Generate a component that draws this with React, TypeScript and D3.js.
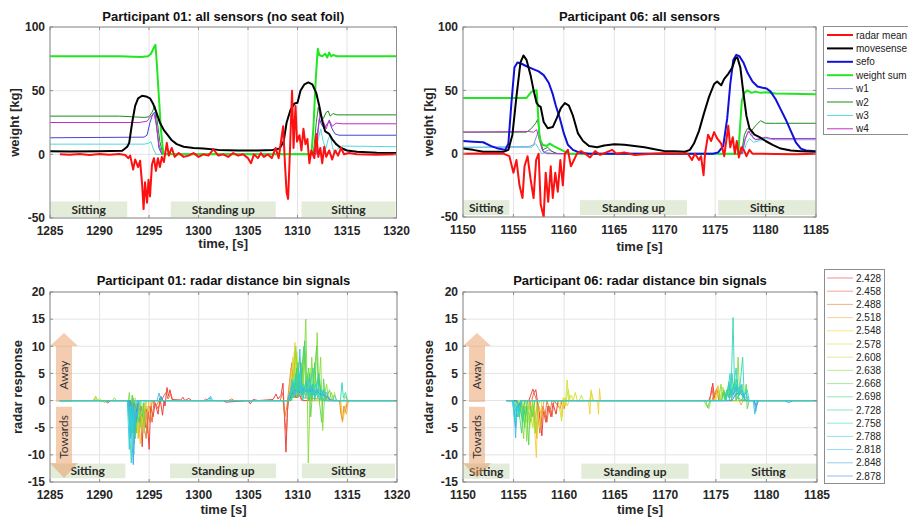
import React from 'react';
import * as d3 from 'd3';

type Pt = [number, number];

// ---- Participant 01: all sensors ----
const p01Radar: Pt[] = [[1286,0],[1287,-0.3],[1288,0.2],[1289,-0.5],[1290,0.3],[1291,-0.4],[1292,0.2],[1292.6,-0.5],[1292.9,-3],[1293.1,-1],[1293.4,-12],[1293.6,-4],[1293.9,-10],[1294.1,-5],[1294.3,-23],[1294.45,-43],[1294.6,-22],[1294.8,-38],[1294.95,-20],[1295.1,-33],[1295.3,-8],[1295.5,-3],[1295.7,-13],[1295.9,-3],[1296.1,-10],[1296.3,-2],[1296.5,-6],[1296.8,9],[1297,-1],[1297.3,5],[1297.6,-2],[1298,1],[1298.5,-2],[1299,-1],[1299.5,1],[1300,-2],[1300.5,0],[1301,-1],[1301.5,4],[1302,-1],[1302.5,0],[1303,-2],[1303.5,1],[1304,-1],[1304.5,0],[1305,-3],[1305.3,-7],[1305.6,0],[1306,-3],[1306.3,1],[1306.6,-2],[1307,0],[1307.4,-3],[1307.8,5],[1308.1,-3],[1308.4,14],[1308.55,22],[1308.75,-10],[1308.9,-30],[1309.05,-35],[1309.2,-5],[1309.45,50],[1309.6,5],[1309.8,38],[1309.95,10],[1310.2,15],[1310.4,3],[1310.6,20],[1310.8,8],[1311,12],[1311.2,-7],[1311.4,3],[1311.7,-3],[1311.9,16],[1312.1,-2],[1312.3,5],[1312.5,-7],[1312.7,6],[1312.9,-2],[1313.2,3],[1313.5,-4],[1313.8,3],[1314.1,-1],[1314.4,5],[1314.7,0],[1315.2,1],[1316,0],[1318,-0.3],[1320,0]];
const p01Move: Pt[] = [[1285,2.5],[1287,2.2],[1290,2.5],[1292.3,2.8],[1292.8,6],[1293,9],[1293.3,25],[1293.6,38],[1293.9,44],[1294.3,46],[1294.7,45.5],[1295.1,44],[1295.4,40],[1295.7,34],[1296.1,25],[1296.5,19],[1296.9,15],[1297.3,11],[1297.8,8],[1298.5,6],[1299.5,5],[1300.5,4.5],[1302,3.5],[1304,3],[1306,3],[1307.5,3.5],[1308.2,4.5],[1308.6,10],[1308.9,25],[1309.3,35],[1309.7,40],[1310,40.5],[1310.3,50],[1310.7,55],[1311.1,56.5],[1311.5,55],[1311.9,48],[1312.2,38],[1312.5,26],[1312.8,18],[1313.2,16],[1313.5,12],[1313.9,8],[1314.4,5],[1315,3],[1316,2],[1318,1.3],[1320,1]];
const p01Weight: Pt[] = [[1285,77],[1292,77],[1294.2,76.5],[1294.9,77],[1295.2,79],[1295.5,84],[1295.65,86],[1295.8,70],[1296,45],[1296.2,20],[1296.45,0],[1311.4,0],[1311.6,20],[1311.85,60],[1312.05,83],[1312.2,78],[1312.5,77],[1312.8,79],[1313,76],[1313.2,80],[1313.4,77],[1313.6,78],[1314,77],[1320,77]];
const p01W1: Pt[] = [[1285,13],[1294.5,13.5],[1294.8,15],[1295.1,25],[1295.4,32],[1295.6,33],[1295.8,20],[1296,5],[1296.3,0],[1311.7,0],[1312,15],[1312.2,28],[1312.4,24],[1312.7,20],[1313,24],[1313.2,26],[1313.5,20],[1313.8,16],[1314.2,15],[1320,15]];
const p01W2: Pt[] = [[1285,30],[1292,30],[1294.5,29],[1295,29.5],[1295.3,33],[1295.6,38],[1295.8,28],[1296.1,10],[1296.4,0],[1311.6,0],[1311.9,25],[1312.1,37],[1312.3,30],[1312.6,28],[1312.9,33],[1313.1,34],[1313.3,30],[1313.6,32],[1314,31],[1320,31]];
const p01W3: Pt[] = [[1285,8],[1294.5,8],[1294.9,8.5],[1295.2,10],[1295.4,5],[1295.7,0],[1311.8,0],[1312.1,12],[1312.35,20],[1312.6,10],[1312.85,4],[1313.1,12],[1313.3,15],[1313.55,5],[1313.75,0.5],[1314,4],[1314.5,6.5],[1320,6]];
const p01W4: Pt[] = [[1285,25],[1294,25],[1294.8,26],[1295.2,30],[1295.5,32],[1295.7,25],[1296,8],[1296.3,0],[1311.9,0],[1312.1,20],[1312.3,33],[1312.6,26],[1312.9,20],[1313.2,27],[1313.5,22],[1313.9,24.5],[1314.5,24],[1320,24]];

// ---- Participant 06: all sensors ----
const p06Radar: Pt[] = [[1150,0],[1152,0.2],[1154,0],[1154.6,-2],[1155,-15],[1155.3,-5],[1155.6,-25],[1155.9,-35],[1156.1,-10],[1156.4,-2],[1156.7,-20],[1157,-35],[1157.25,-5],[1157.5,0],[1157.7,-40],[1158,-50],[1158.2,-15],[1158.45,-38],[1158.7,-10],[1158.9,-35],[1159.15,-15],[1159.4,-30],[1159.65,-5],[1159.9,-25],[1160.1,0],[1160.4,3],[1160.7,-10],[1161,-5],[1161.3,0],[1161.7,2],[1162.1,0],[1162.6,-3],[1163.1,2],[1163.6,-1],[1164.2,1],[1164.8,3],[1165.2,0],[1166,1],[1167,-1],[1168,-0.5],[1169,0],[1170,0.3],[1172.3,0],[1172.7,-5],[1173,0],[1173.4,-5],[1173.6,-2],[1173.85,-17],[1174,0],[1174.3,15],[1174.6,10],[1174.9,17],[1175.2,12],[1175.6,8],[1175.9,-2],[1176.3,22],[1176.5,5],[1176.75,13],[1176.95,0],[1177.15,10],[1177.35,-3],[1177.6,5],[1177.9,2],[1178.1,-2],[1178.4,3],[1178.7,0],[1179.5,0],[1181,-0.3],[1183,-0.5],[1185,0]];
const p06Move: Pt[] = [[1150,4],[1151,3],[1152,1.5],[1153,1.5],[1154,1.5],[1154.5,3],[1154.9,15],[1155.3,45],[1155.7,72],[1156,77.5],[1156.3,74],[1156.7,62],[1157,50],[1157.3,40],[1157.5,38],[1157.7,37],[1158,25],[1158.4,20],[1158.9,21],[1159.3,28],[1159.7,36],[1160.1,40],[1160.5,38],[1160.9,30],[1161.4,16],[1161.9,10],[1162.5,6],[1163.3,5],[1164,6.5],[1165,7.5],[1166,7],[1167,6],[1168,5],[1169,3.5],[1170,2],[1171,2],[1172,1.5],[1172.5,3],[1172.9,8],[1173.4,18],[1173.9,32],[1174.4,45],[1174.9,55],[1175.2,57],[1175.6,54],[1175.9,59],[1176.3,63],[1176.7,68],[1177,75],[1177.2,76],[1177.5,68],[1177.8,48],[1178.1,30],[1178.4,20],[1178.9,15],[1179.4,13],[1180,10],[1180.7,7],[1181.5,4],[1182.5,2.5],[1183.5,2],[1185,1.5]];
const p06Sefo: Pt[] = [[1150,10],[1151,9.5],[1152,9],[1152.8,6],[1153.5,4],[1154.2,3],[1154.5,8],[1154.8,40],[1155.1,68],[1155.4,72],[1155.8,71],[1156.3,69],[1156.9,67],[1157.5,65],[1158,62],[1158.5,56],[1158.9,47],[1159.2,38],[1159.6,28],[1160,16],[1160.4,7],[1160.9,3],[1161.5,1],[1162.5,0],[1174.8,0],[1175.3,1],[1175.8,6],[1176.2,28],[1176.5,55],[1176.8,74],[1177.1,78],[1177.4,77],[1177.8,72],[1178.2,64],[1178.7,57],[1179.2,53],[1179.7,52],[1180.1,51.5],[1180.5,49],[1181,43],[1181.5,35],[1182,27],[1182.5,18],[1183,9],[1183.5,4],[1184,2.5],[1185,2]];
const p06Weight: Pt[] = [[1150,44],[1156.3,44],[1156.5,46],[1156.8,49],[1157.3,50],[1157.45,30],[1157.6,12],[1157.9,7],[1158.3,6],[1158.6,8],[1159,6],[1159.5,4],[1160,2],[1160.5,0],[1177.3,0],[1177.5,25],[1177.65,42],[1177.9,48],[1178.2,50],[1178.6,48],[1179,49],[1179.5,48],[1180,48.5],[1181,47.5],[1185,47]];
const p06W1: Pt[] = [[1150,5],[1156.5,5.5],[1157,7],[1157.3,14],[1157.5,18],[1157.7,8],[1158,1],[1158.5,3],[1159,1],[1159.5,0],[1177.6,0],[1177.9,10],[1178.2,16],[1178.5,18],[1178.8,12],[1179.2,11],[1180,12],[1181,11],[1185,11]];
const p06W2: Pt[] = [[1150,17],[1156.3,17],[1156.8,20],[1157.2,24],[1157.4,27],[1157.6,15],[1157.9,3],[1158.4,5],[1158.8,2],[1159.3,0],[1177.6,0],[1177.9,15],[1178.2,20],[1178.6,18],[1179,22],[1179.5,26],[1180,24],[1181,24],[1185,24]];
const p06W3: Pt[] = [[1150,5],[1156.8,5],[1157.2,8],[1157.5,4],[1157.8,0],[1158.3,1],[1159,0],[1177.8,0],[1178.1,8],[1178.4,12],[1178.8,9],[1179.3,10],[1180,12],[1185,11.5]];
const p06W4: Pt[] = [[1150,17],[1156.5,17.5],[1157,17],[1157.3,19],[1157.6,10],[1157.9,2],[1158.3,0],[1177.7,0],[1178,12],[1178.3,18],[1178.6,14],[1179,11],[1179.5,12],[1180,13],[1180.5,12],[1185,12]];

// ---- radar distance bins ----
const binLabels = ['2.428','2.458','2.488','2.518','2.548','2.578','2.608','2.638','2.668','2.698','2.728','2.758','2.788','2.818','2.848','2.878'];

const binsP01: Pt[][] = [
  [[1286,0],[1292.8,0],[1293,-0.5],[1293.3,-1.5],[1293.5,-0.3],[1293.9,-3],[1294.1,-1],[1294.3,-8.5],[1294.45,-2],[1294.6,-5],[1294.75,-1.5],[1295,-9],[1295.15,-1],[1295.4,-3],[1295.6,-0.5],[1295.9,-2.5],[1296.1,0.5],[1296.35,-2.7],[1296.5,0],[1296.6,-1],[1296.8,2.4],[1296.95,0.8],[1297.1,2],[1297.3,0.2],[1298.2,0.1],[1298.4,0.6],[1298.6,0],[1299,0.4],[1299.3,0],[1302.5,0],[1302.7,-0.3],[1305,0],[1305.2,-0.6],[1305.5,0.2],[1306,0],[1307.5,0.2],[1307.8,1.2],[1308,0.3],[1308.3,1],[1308.5,3.2],[1308.65,-3],[1308.8,-9.5],[1308.95,-2],[1309.1,1],[1309.3,0.5],[1309.5,2],[1309.8,0.5],[1310.2,1],[1310.5,0],[1311,0],[1320,0]],
  [[1286,0],[1290.7,0],[1290.9,-0.4],[1291.1,0],[1293.5,0],[1293.8,-2],[1294,-0.5],[1294.3,-5],[1294.5,-1],[1294.8,-6],[1295,-1],[1295.3,-4],[1295.5,0],[1295.9,-1.5],[1296.2,0],[1296.7,1.5],[1296.9,0.3],[1297.2,1.2],[1297.4,0],[1300.5,0],[1300.7,0.3],[1301,0],[1308.2,0],[1308.5,1.5],[1308.7,-4],[1308.85,-6],[1309,0],[1309.4,3],[1309.6,0.5],[1310,1.5],[1310.4,0],[1320,0]],
  [[1286,0],[1290.6,0],[1290.8,-0.5],[1291,0],[1293.4,0],[1293.6,-3],[1293.8,-0.5],[1294,-6],[1294.2,-1],[1294.5,-5],[1294.7,-7],[1294.9,-2],[1295.1,-4],[1295.3,0],[1295.7,-1],[1296,0],[1303,0],[1303.3,0.3],[1303.6,0],[1308.5,0],[1308.7,-3],[1308.9,-1],[1309.2,4],[1309.4,7],[1309.55,1],[1309.7,5],[1309.9,0.5],[1310.3,3],[1310.6,0.5],[1314.2,0],[1314.35,-2.5],[1314.5,-3.8],[1314.65,-1],[1314.8,-2],[1315,0],[1320,0]],
  [[1286,0],[1293.2,0],[1293.5,-4],[1293.7,-1],[1293.9,-7],[1294.1,-2],[1294.3,-5],[1294.5,-0.5],[1294.7,-3],[1295,0],[1309,0],[1309.3,6],[1309.45,1],[1309.65,9],[1309.8,2],[1310.1,4],[1310.4,0.5],[1310.8,2],[1311.2,0],[1314.3,0],[1314.5,-4],[1314.7,-1.5],[1314.9,-2.5],[1315.1,0],[1320,0]],
  [[1286,0],[1289.3,0],[1289.5,0.3],[1289.7,0],[1293.3,0],[1293.6,-5],[1293.8,-1],[1294.1,-8],[1294.3,-3],[1294.5,-6],[1294.7,-1],[1295,-2],[1295.2,0],[1309.1,0],[1309.35,5],[1309.5,2],[1309.7,10.7],[1309.85,3],[1310,7],[1310.2,1],[1310.5,6],[1310.7,1],[1311,3],[1311.3,0.5],[1311.8,4],[1312,0],[1312.6,0],[1312.8,1.5],[1313,0],[1314.3,0],[1314.45,-2],[1314.6,-3],[1314.8,-1],[1315,0],[1320,0]],
  [[1286,0],[1289.4,0],[1289.6,0.5],[1289.8,0.1],[1290.2,-0.3],[1290.5,0],[1293.2,0],[1293.4,-3],[1293.6,0.5],[1293.8,-6],[1294,-1],[1294.3,-4],[1294.6,-0.5],[1295,0],[1309.2,0],[1309.5,8],[1309.7,2],[1309.9,9],[1310.1,3],[1310.4,7],[1310.6,1],[1311,5],[1311.2,0],[1311.6,6],[1311.8,1],[1312.2,3],[1312.5,0],[1313.5,0],[1313.7,1.5],[1313.9,0],[1320,0]],
  [[1286,0],[1289.8,0],[1290,0.4],[1290.2,0],[1293.3,0],[1293.5,-6],[1293.7,-1],[1293.9,-4],[1294.1,0],[1309.3,0],[1309.6,6],[1309.8,1],[1310.2,8],[1310.4,2],[1310.7,9],[1310.9,1],[1311.3,6],[1311.5,0],[1312,0],[1320,0]],
  [[1286,0],[1289.4,0],[1289.6,0.8],[1289.8,0],[1291.3,0],[1291.5,0.5],[1291.7,0],[1292.9,0],[1293,1.5],[1293.15,-2],[1293.3,0],[1293.6,-7],[1293.8,-1],[1294.2,-5],[1294.4,-0.5],[1294.5,-6],[1294.7,0],[1309.4,0],[1309.6,4],[1309.8,10],[1310,2],[1310.3,6],[1310.5,1],[1310.8,15],[1310.95,2],[1311.05,-11.5],[1311.2,-1],[1311.4,8],[1311.6,1],[1311.8,5],[1311.95,12.5],[1312.1,2],[1312.3,8],[1312.5,-5.5],[1312.7,1],[1312.9,3],[1313.1,0],[1313.4,1.5],[1313.6,0],[1314.6,0],[1314.8,0.8],[1315,0],[1320,0]],
  [[1286,0],[1290.3,0],[1290.5,-0.4],[1290.7,0],[1293,0],[1293.2,-4],[1293.4,0.5],[1293.7,-6],[1293.9,-1],[1294.3,-3],[1294.5,0],[1309.3,0],[1309.5,3],[1309.7,1],[1310,7],[1310.2,1.5],[1310.6,10],[1310.8,2],[1311.1,6],[1311.3,-3],[1311.5,2],[1311.9,10],[1312.1,1],[1312.4,-4],[1312.6,4],[1312.8,0],[1313.2,2],[1313.4,0],[1320,0]],
  [[1286,0],[1292.9,0],[1293.1,-3],[1293.3,1],[1293.5,-8],[1293.7,-2],[1294,-4],[1294.2,0],[1309.2,0],[1309.4,2],[1309.6,0.5],[1309.9,6],[1310.1,1],[1310.4,4],[1310.7,11],[1310.9,2],[1311.2,5],[1311.4,0],[1311.7,7],[1311.9,1],[1312.2,4],[1312.4,0],[1320,0]],
  [[1286,0],[1292.9,0],[1293.1,-6],[1293.3,-1],[1293.55,-7],[1293.8,0],[1296,0],[1296.2,0.5],[1296.4,0],[1309.3,0],[1309.5,1],[1309.8,4],[1310,0.5],[1310.3,7],[1310.5,1],[1310.9,4],[1311.1,0],[1311.5,3],[1311.7,0],[1312.1,5],[1312.3,0.5],[1312.6,2],[1312.8,0],[1320,0]],
  [[1286,0],[1292.8,0],[1293,-4],[1293.2,-11.5],[1293.35,-2],[1293.5,-5],[1293.7,0],[1309.1,0],[1309.3,1.5],[1309.5,0.5],[1309.8,5],[1310,1],[1310.3,3],[1310.5,0],[1310.9,4],[1311.1,1],[1311.5,6],[1311.7,0.5],[1312,4],[1312.2,0],[1312.6,2],[1312.8,0],[1314.3,0],[1314.45,3.3],[1314.6,0.5],[1314.8,1.5],[1315,0],[1320,0]],
  [[1286,0],[1292.8,0],[1293,-9],[1293.15,-1],[1293.3,-6],[1293.5,0],[1301,0],[1301.2,0.8],[1301.4,0],[1309,0],[1309.2,1],[1309.4,4],[1309.6,1],[1309.9,2],[1310.1,5],[1310.3,1],[1310.6,3],[1310.8,0.5],[1311.2,4],[1311.4,1],[1311.8,3],[1312,0.5],[1312.4,2],[1312.6,0],[1313.5,0],[1313.7,1],[1313.9,0],[1320,0]],
  [[1286,0],[1292.9,0],[1293.1,-7],[1293.3,-1],[1293.45,-10],[1293.6,-2],[1293.8,-3],[1294,0],[1295.8,0],[1296,1.4],[1296.2,0],[1309.1,0],[1309.3,2],[1309.5,3.5],[1309.7,1],[1310,2.5],[1310.2,9.5],[1310.35,1],[1310.6,2],[1311,1.5],[1311.3,3],[1311.6,1],[1312,2],[1312.5,1],[1312.9,1.5],[1313.2,0],[1320,0]],
  [[1286,0],[1293,0],[1293.2,-5],[1293.4,-11.8],[1293.55,-2],[1293.7,-4],[1293.9,0],[1300.8,0],[1301.1,0.6],[1301.3,0],[1309,0],[1309.2,1.5],[1309.4,2.5],[1309.7,2],[1310,1.5],[1310.4,2.5],[1310.8,1.8],[1311.2,2.2],[1311.7,1.5],[1312.2,2],[1312.7,1.2],[1313.1,0.5],[1313.4,0],[1320,0]],
  [[1286,0],[1293.1,0],[1293.3,-3],[1293.5,-0.5],[1293.7,-2],[1294,0],[1296,0],[1296.2,0.8],[1296.4,0],[1309.1,0],[1309.4,1.2],[1309.8,2],[1310.2,1.5],[1310.6,2],[1311,1.5],[1311.5,2],[1312,1.5],[1312.5,1],[1313,0.5],[1313.4,0],[1320,0]],
];

const binsP06: Pt[][] = [
  [[1154.3,0],[1156.5,0],[1156.7,1],[1156.9,2.1],[1157.05,1.5],[1157.2,2],[1157.35,0],[1157.6,-3],[1157.8,-6.5],[1157.95,-2],[1158.2,-4],[1158.4,-1],[1158.7,-3],[1158.9,-0.5],[1159.2,-2.5],[1159.4,0],[1174.3,0],[1174.5,1],[1174.7,3.2],[1174.85,0.5],[1175.1,2],[1175.3,0],[1185,0]],
  [[1154.3,0],[1156.8,0],[1157,1.5],[1157.2,0.5],[1157.5,-2],[1157.7,-5],[1157.9,-1],[1158.3,-4],[1158.5,-1],[1158.8,-3],[1159,0],[1159.6,-1.5],[1159.8,0],[1174.4,0],[1174.6,2.5],[1174.8,0],[1185,0]],
  [[1154.3,0],[1156.2,0],[1156.4,-2],[1156.6,0],[1157.1,-4],[1157.3,-1],[1157.6,-6],[1157.8,-1.5],[1158.1,-3],[1158.3,0],[1158.6,-2],[1158.8,0],[1159.9,0],[1160,-1.5],[1160.2,0],[1174.6,0],[1174.9,1.5],[1175.2,2.5],[1175.4,0.5],[1175.7,1.5],[1176,0],[1185,0]],
  [[1154.3,0],[1156.5,0],[1156.8,-3],[1157,-1],[1157.3,-7],[1157.5,-1],[1157.8,-3],[1158,0],[1174.8,0],[1175.1,1.5],[1175.4,0],[1177.3,0],[1177.5,-0.8],[1177.7,0],[1185,0]],
  [[1154.3,0],[1156.8,0],[1157.05,-4],[1157.25,-10.5],[1157.4,-2],[1157.6,-5],[1157.8,0],[1159.6,0],[1159.8,-3],[1160,0.5],[1160.3,-1],[1160.5,0],[1162.4,0],[1162.55,-2.5],[1162.65,2],[1162.8,0],[1163.3,0],[1163.4,-2.5],[1163.5,2.2],[1163.6,0],[1174.9,0],[1175.2,2.8],[1175.4,0.5],[1175.8,1.5],[1176,0],[1185,0]],
  [[1154.3,0],[1155.8,0],[1156,-3],[1156.2,0],[1156.6,-5],[1156.8,-1],[1157.1,-6],[1157.3,0],[1159.4,0],[1159.6,-2],[1159.75,-3.8],[1159.9,0.5],[1160.1,-1],[1160.3,3.8],[1160.45,0],[1160.7,1],[1160.9,0],[1161.1,1.5],[1161.3,0],[1162.5,0],[1162.7,1.5],[1162.9,0],[1175,0],[1175.3,2],[1175.5,0],[1185,0]],
  [[1154.3,0],[1155.5,0],[1155.7,-2],[1155.9,0],[1156.3,-4],[1156.5,-0.5],[1156.9,-5],[1157.1,0],[1160.2,0],[1160.4,2],[1160.6,0],[1161.5,0],[1161.7,1],[1161.9,0],[1175.4,0],[1175.7,2.5],[1175.9,0.5],[1176.2,1.5],[1176.4,0],[1185,0]],
  [[1154.3,0],[1155.3,0],[1155.5,-3],[1155.7,-0.5],[1156,-7],[1156.15,-1],[1156.3,-7.5],[1156.45,-2],[1156.7,-4],[1156.9,0],[1157.2,-6],[1157.4,-1],[1157.6,0],[1173.8,0],[1174.1,-1],[1174.3,-1.5],[1174.5,0],[1175.3,0],[1175.5,3],[1175.7,0.5],[1176.2,2],[1176.4,0],[1177,0],[1177.2,8],[1177.35,1],[1177.6,3],[1177.8,0],[1185,0]],
  [[1154.3,0],[1155.4,0],[1155.6,-2],[1155.8,-0.5],[1156.1,-5],[1156.3,-1],[1156.5,-8.2],[1156.65,-1],[1156.9,-3],[1157.1,0],[1174,0],[1174.2,-1.3],[1174.4,0],[1175.6,0],[1175.8,2],[1176,0.5],[1176.3,3.5],[1176.5,1],[1176.9,4],[1177.1,0.5],[1177.8,0],[1178,3],[1178.1,-1.5],[1178.3,0],[1185,0]],
  [[1154.3,0],[1155.2,0],[1155.5,-1.5],[1155.8,-6],[1155.95,-1],[1156.2,-3],[1156.4,0],[1175.5,0],[1175.8,1.5],[1176,0],[1176.3,2.5],[1176.5,0.5],[1176.8,3],[1177,0],[1177.5,2],[1177.7,0],[1185,0]],
  [[1154.3,0],[1155.1,0],[1155.4,-3],[1155.6,-0.5],[1155.9,-4],[1156.1,0],[1175.8,0],[1176.1,2],[1176.3,0.5],[1176.6,5],[1176.75,1],[1177.1,3],[1177.3,0],[1185,0]],
  [[1154.3,0],[1155,0],[1155.2,-2],[1155.4,-0.5],[1155.6,-3],[1155.8,0],[1176,0],[1176.3,3],[1176.5,1],[1176.7,15.3],[1176.85,2],[1177.1,4],[1177.3,1],[1177.65,8],[1177.8,1],[1178.1,2],[1178.3,0],[1185,0]],
  [[1154.3,0],[1154.9,0],[1155.1,-4],[1155.3,-1],[1155.5,-2],[1155.7,0],[1176,0],[1176.2,2],[1176.4,5],[1176.55,1],[1176.8,3],[1177,6],[1177.2,1],[1177.5,3],[1177.7,0.5],[1178,1.5],[1178.2,0],[1185,0]],
  [[1154.3,0],[1154.9,0],[1155.1,-3],[1155.2,-6.9],[1155.35,-1],[1155.5,-2],[1155.7,0],[1176.3,0],[1176.5,2],[1176.7,1],[1177,2.5],[1177.3,1],[1177.6,2],[1177.9,0],[1178.7,0],[1178.85,-2.5],[1179,-0.5],[1179.2,0],[1185,0]],
  [[1154.3,0],[1155,0],[1155.2,-5],[1155.35,-1],[1155.6,-1.5],[1155.8,0],[1176.5,0],[1176.8,1.5],[1177.1,2],[1177.4,2.5],[1177.7,1],[1178,0.5],[1178.3,0],[1178.8,0],[1178.95,-2],[1179.1,0],[1181.8,0],[1182.2,-0.4],[1182.6,0],[1185,0]],
  [[1154.3,0],[1155.3,0],[1155.5,-1],[1155.7,0],[1176.6,0],[1176.9,1],[1177.3,1.5],[1177.6,1],[1178,0],[1178.8,0],[1179,-1.2],[1179.2,0],[1185,0]],
];

// phases (label, start, end)
type Phase = [string, number, number];
const phasesP01top: Phase[] = [['Sitting', 1285, 1292.8], ['Standing up', 1297.2, 1307.8], ['Sitting', 1310.4, 1319.9]];
const phasesP06top: Phase[] = [['Sitting', 1150, 1154.6], ['Standing up', 1161.6, 1172.2], ['Sitting', 1175.3, 1185]];
const phasesP01bot: Phase[] = [['Sitting', 1285, 1292.6], ['Standing up', 1297.1, 1307.8], ['Sitting', 1310.4, 1319.8]];
const phasesP06bot: Phase[] = [['Sitting', 1150, 1154.6], ['Standing up', 1161.7, 1172.3], ['Sitting', 1175.4, 1185]];

const sensorNames = ['radar mean', 'movesense', 'sefo', 'weight sum', 'w1', 'w2', 'w3', 'w4'];
const sensorColors = ['#ff1010', '#000000', '#1010dd', '#22e622', '#8a8ad8', '#1e8c1e', '#55d8dc', '#c030c8'];
const sensorWidths = [2, 2, 2, 2, 1, 1, 1, 1];

const binColors = ['#e8312a', '#ee5a3a', '#e2772a', '#f4a83a', '#f2cf2e', '#d6e02a', '#b8e83c', '#86dc3c', '#5ed64a', '#3fd46e', '#2fcf8e', '#33d6b8', '#2ed0d6', '#37bce6', '#3fa2ea', '#3d85e3'];
// drawing order of the bins: cyan last so the flat baseline reads teal
const binOrder = [0, 1, 2, 3, 4, 5, 6, 7, 8, 9, 10, 15, 14, 11, 13, 12];

const FONT = 'Liberation Sans, Arial, sans-serif';
const NOTE_FONT = 'Lato, Open Sans, sans-serif';

type Frame = { left: number; right: number; top: number; bottom: number };
type Series = { pts: Pt[]; color: string; width: number; opacity?: number };

function Panel(props: {
  id: string; frame: Frame; xDomain: [number, number]; yDomain: [number, number];
  xTicks: number[]; yTicks: number[]; title: string; xLabel: string; yLabel: string; yLabelX: number;
  titleY: number; xLabelY: number; series: Series[]; phases: Phase[]; band: [number, number]; arrows?: boolean;
}) {
  const { id, frame, xDomain, yDomain, xTicks, yTicks, title, xLabel, yLabel, yLabelX, titleY, xLabelY, series, phases, band, arrows } = props;
  const x = d3.scaleLinear().domain(xDomain).range([frame.left, frame.right]);
  const y = d3.scaleLinear().domain(yDomain).range([frame.bottom, frame.top]);
  const line = d3.line<Pt>().x(d => x(d[0])).y(d => y(d[1]));
  const cx = (frame.left + frame.right) / 2;
  const cy = (frame.top + frame.bottom) / 2;
  const ax = frame.left + 14;
  const arrowFill = '#eb9a62';
  return (
    <g>
      <defs>
        <clipPath id={id}>
          <rect x={frame.left} y={frame.top} width={frame.right - frame.left} height={frame.bottom - frame.top} />
        </clipPath>
      </defs>
      <rect x={frame.left} y={frame.top} width={frame.right - frame.left} height={frame.bottom - frame.top} fill="#fff" />
      {xTicks.map(t => (
        <line key={'gx' + t} x1={x(t)} x2={x(t)} y1={frame.top} y2={frame.bottom} stroke="#e4e4e4" strokeWidth={1} />
      ))}
      {yTicks.map(t => (
        <line key={'gy' + t} x1={frame.left} x2={frame.right} y1={y(t)} y2={y(t)} stroke="#e4e4e4" strokeWidth={1} />
      ))}
      {phases.map((p, i) => (
        <g key={'ph' + i}>
          <rect x={x(p[1])} y={y(band[0])} width={x(p[2]) - x(p[1])} height={y(band[1]) - y(band[0])} fill="#e2ecd8" />
          <text x={(x(p[1]) + x(p[2])) / 2} y={(y(band[0]) + y(band[1])) / 2 + 4.5} textAnchor="middle"
            fontFamily={NOTE_FONT} fontWeight={700} fontSize={12} fill="#2a2a2a">{p[0]}</text>
        </g>
      ))}
      {arrows && (
        <g opacity={0.5} fill={arrowFill}>
          <polygon points={[[ax, y(12.45)], [ax - 14, y(10.05)], [ax - 8, y(10.05)], [ax - 8, y(-0.25)], [ax + 8, y(-0.25)], [ax + 8, y(10.05)], [ax + 14, y(10.05)]].map(p => p.join(',')).join(' ')} />
          <polygon points={[[ax, y(-14.25)], [ax - 14, y(-11.5)], [ax - 8, y(-11.5)], [ax - 8, y(-1.15)], [ax + 8, y(-1.15)], [ax + 8, y(-11.5)], [ax + 14, y(-11.5)]].map(p => p.join(',')).join(' ')} />
        </g>
      )}
      {arrows && (
        <g fontFamily={NOTE_FONT} fontSize={12} fill="#333">
          <text transform={`translate(${ax + 4},${y(4.7)}) rotate(-90)`} textAnchor="middle">Away</text>
          <text transform={`translate(${ax + 4},${y(-6.7)}) rotate(-90)`} textAnchor="middle">Towards</text>
        </g>
      )}
      <g clipPath={`url(#${id})`} fill="none">
        {series.map((s, i) => (
          <path key={i} d={line(s.pts) || ''} stroke={s.color} strokeWidth={s.width} strokeOpacity={s.opacity ?? 1} strokeLinejoin="round" />
        ))}
      </g>
      <rect x={frame.left} y={frame.top} width={frame.right - frame.left} height={frame.bottom - frame.top} fill="none" stroke="#8c8c8c" strokeWidth={1} />
      {xTicks.map(t => (
        <g key={'tx' + t}>
          <line x1={x(t)} x2={x(t)} y1={frame.bottom} y2={frame.bottom - 3} stroke="#8c8c8c" />
          <line x1={x(t)} x2={x(t)} y1={frame.top} y2={frame.top + 3} stroke="#8c8c8c" />
          <text x={x(t)} y={frame.bottom + 17} textAnchor="middle" fontFamily={FONT} fontWeight={700} fontSize={12} fill="#262626">{t}</text>
        </g>
      ))}
      {yTicks.map(t => (
        <g key={'ty' + t}>
          <line x1={frame.left} x2={frame.left + 3} y1={y(t)} y2={y(t)} stroke="#8c8c8c" />
          <line x1={frame.right} x2={frame.right - 3} y1={y(t)} y2={y(t)} stroke="#8c8c8c" />
          <text x={frame.left - 5} y={y(t) + 4.3} textAnchor="end" fontFamily={FONT} fontWeight={700} fontSize={12} fill="#262626">{t}</text>
        </g>
      ))}
      <text x={cx} y={titleY} textAnchor="middle" fontFamily={FONT} fontWeight={700} fontSize={13} fill="#111">{title}</text>
      <text x={cx} y={xLabelY} textAnchor="middle" fontFamily={FONT} fontWeight={700} fontSize={13} fill="#262626">{xLabel}</text>
      <text transform={`translate(${yLabelX},${cy}) rotate(-90)`} textAnchor="middle" fontFamily={FONT} fontWeight={700} fontSize={13} fill="#262626">{yLabel}</text>
    </g>
  );
}

function sensorSeries(list: (Pt[] | null)[], w1Color?: string): Series[] {
  // thin lines first, thick on top (w1..w4, then weight sum, sefo, movesense, radar)
  const order = [4, 5, 6, 7, 3, 2, 1, 0];
  return order
    .filter(i => list[i])
    .map(i => ({ pts: list[i] as Pt[], color: i === 4 && w1Color ? w1Color : sensorColors[i], width: sensorWidths[i] }));
}

export default function App() {
  const topL: Frame = { left: 50, right: 396.5, top: 27, bottom: 218 };
  const topR: Frame = { left: 463, right: 816, top: 27, bottom: 217 };
  const botL: Frame = { left: 50, right: 397, top: 292, bottom: 482 };
  const botR: Frame = { left: 463, right: 817, top: 292, bottom: 482 };
  const ticks01 = d3.range(1285, 1321, 5);
  const ticks06 = d3.range(1150, 1186, 5);
  const yTop = [-50, 0, 50, 100];
  const yBot = [-15, -10, -5, 0, 5, 10, 15, 20];

  const binSeries = (bins: Pt[][]): Series[] => binOrder.map(i => ({ pts: bins[i], color: binColors[i], width: 1, opacity: 0.9 }));

  return (
    <svg width={908} height={517} style={{ position: 'absolute', left: 0, top: 0, background: '#fff' }}>
      <rect width={908} height={517} fill="#fff" />
      <Panel id="c1" frame={topL} xDomain={[1285, 1320]} yDomain={[-50, 100]} xTicks={ticks01} yTicks={yTop}
        title="Participant 01: all sensors (no seat foil)" xLabel="time, [s]" yLabel="weight [kg]" yLabelX={19}
        titleY={21} xLabelY={248}
        series={sensorSeries([p01Radar, p01Move, null, p01Weight, p01W1, p01W2, p01W3, p01W4], '#4444d8')}
        phases={phasesP01top} band={[-37, -49.5]} />
      <Panel id="c2" frame={topR} xDomain={[1150, 1185]} yDomain={[-50, 100]} xTicks={ticks06} yTicks={yTop}
        title="Participant 06: all sensors" xLabel="time [s]" yLabel="weight [kg]" yLabelX={433}
        titleY={21} xLabelY={251}
        series={sensorSeries([p06Radar, p06Move, p06Sefo, p06Weight, p06W1, p06W2, p06W3, p06W4])}
        phases={phasesP06top} band={[-36.7, -48.5]} />
      <Panel id="c3" frame={botL} xDomain={[1285, 1320]} yDomain={[-15, 20]} xTicks={ticks01} yTicks={yBot}
        title="Participant 01: radar distance bin signals" xLabel="time [s]" yLabel="radar response" yLabelX={22}
        titleY={285} xLabelY={514}
        series={binSeries(binsP01)} phases={phasesP01bot} band={[-11.6, -14.3]} arrows />
      <Panel id="c4" frame={botR} xDomain={[1150, 1185]} yDomain={[-15, 20]} xTicks={ticks06} yTicks={yBot}
        title="Participant 06: radar distance bin signals" xLabel="time [s]" yLabel="radar response" yLabelX={433}
        titleY={285} xLabelY={514}
        series={binSeries(binsP06)} phases={phasesP06bot} band={[-11.6, -14.4]} arrows />

      {/* sensor legend */}
      <g fontFamily={FONT} fontSize={10} fill="#222">
        <rect x={823.5} y={26.5} width={100} height={108} fill="#fff" stroke="#8c8c8c" />
        {sensorNames.map((n, i) => (
          <g key={n}>
            <line x1={827} x2={853} y1={35 + i * 13.4} y2={35 + i * 13.4} stroke={sensorColors[i]} strokeWidth={sensorWidths[i]} />
            <text x={856} y={35 + i * 13.4 + 3.5}>{n}</text>
          </g>
        ))}
      </g>
      {/* bin legend */}
      <g fontFamily={FONT} fontSize={10} fill="#222">
        <rect x={824.5} y={269.5} width={60} height={214} fill="#fff" stroke="#8c8c8c" />
        {binLabels.map((n, i) => (
          <g key={n}>
            <line x1={827} x2={853} y1={278 + i * 13.2} y2={278 + i * 13.2} stroke={binColors[i]} strokeOpacity={0.55} strokeWidth={1} />
            <text x={856} y={278 + i * 13.2 + 3.5}>{n}</text>
          </g>
        ))}
      </g>
    </svg>
  );
}
